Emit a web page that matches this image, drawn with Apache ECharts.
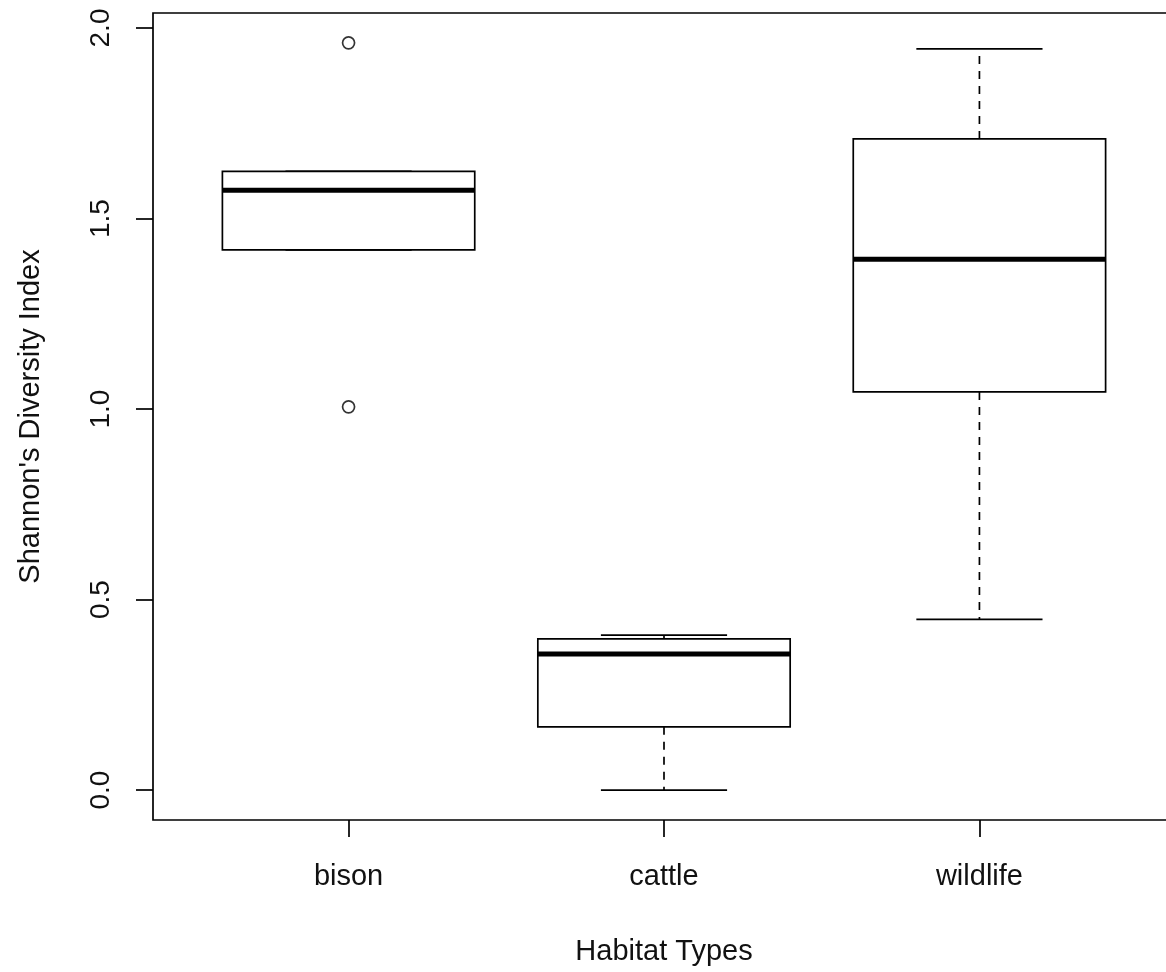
<!DOCTYPE html>
<html>
<head>
<meta charset="utf-8">
<script src="https://cdn.jsdelivr.net/npm/echarts@6/dist/echarts.min.js"></script>
<style>
  html, body { margin: 0; padding: 0; background: #fff; }
  #chart { width: 1166px; height: 972px; }
</style>
</head>
<body>
<div id="chart"></div>
<script>
// Box statistics
const categories = ['bison', 'cattle', 'wildlife'];
const lowerWhisker = [1.418, 0.000, 0.448];
const q1 = [1.418, 0.166, 1.045];
const median = [1.574, 0.357, 1.393];
const q3 = [1.624, 0.397, 1.709];
const upperWhisker = [1.624, 0.407, 1.945];
const outliers = [[1, 1.961], [1, 1.006]]; // [group position, value]
const yTicks = [0, 0.5, 1.0, 1.5, 2.0];
const xTicks = [1, 2, 3];

const FONT = 'Liberation Sans, Arial, sans-serif';

const boxData = categories.map((c, i) => [i + 1, lowerWhisker[i], q1[i], median[i], q3[i], upperWhisker[i]]);

function renderBox(params, api) {
  const x = api.value(0);
  const lo = api.coord([x, api.value(1)]);
  const b1 = api.coord([x, api.value(2)]);
  const md = api.coord([x, api.value(3)]);
  const b3 = api.coord([x, api.value(4)]);
  const hi = api.coord([x, api.value(5)]);
  const boxW = api.size([0.8, 0])[0];
  const stapleW = boxW / 2;
  const cx = lo[0];
  const thin = { stroke: '#000', lineWidth: 1.7 };
  const dashed = { stroke: '#000', lineWidth: 1.7, lineDash: [8, 7] };
  return {
    type: 'group',
    children: [
      { type: 'line', shape: { x1: cx, y1: b3[1], x2: cx, y2: hi[1] }, style: dashed },
      { type: 'line', shape: { x1: cx, y1: b1[1], x2: cx, y2: lo[1] }, style: dashed },
      { type: 'line', shape: { x1: cx - stapleW / 2, y1: hi[1], x2: cx + stapleW / 2, y2: hi[1] }, style: thin },
      { type: 'line', shape: { x1: cx - stapleW / 2, y1: lo[1], x2: cx + stapleW / 2, y2: lo[1] }, style: thin },
      { type: 'rect', shape: { x: cx - boxW / 2, y: b3[1], width: boxW, height: b1[1] - b3[1] },
        style: { fill: '#fff', stroke: '#000', lineWidth: 1.7 } },
      { type: 'line', shape: { x1: cx - boxW / 2, y1: md[1], x2: cx + boxW / 2, y2: md[1] },
        style: { stroke: '#000', lineWidth: 5 } }
    ]
  };
}

const chart = echarts.init(document.getElementById('chart'), null, { renderer: 'canvas' });

chart.setOption({
  backgroundColor: '#fff',
  animation: false,
  grid: {
    left: 153, top: 13, width: 1022, height: 807,
    outerBoundsMode: 'none',
    containLabel: false,
    show: true, borderColor: '#000', borderWidth: 1.7, backgroundColor: 'transparent'
  },
  xAxis: {
    type: 'value',
    min: 0.38, max: 3.62,
    name: 'Habitat Types',
    nameLocation: 'middle',
    nameGap: 117,
    nameTextStyle: { fontFamily: FONT, fontSize: 29, color: '#111' },
    axisLine: { show: false, onZero: false },
    axisTick: { show: true, length: 17, customValues: xTicks, lineStyle: { color: '#000', width: 1.7 } },
    axisLabel: {
      customValues: xTicks,
      formatter: v => categories[Math.round(v) - 1],
      margin: 42, fontFamily: FONT, fontSize: 29, color: '#111'
    },
    splitLine: { show: false }
  },
  yAxis: {
    type: 'value',
    min: -0.0784, max: 2.0394,
    name: "Shannon's Diversity Index",
    nameLocation: 'middle',
    nameGap: 108,
    nameTextStyle: { fontFamily: FONT, fontSize: 29, color: '#111' },
    axisLine: { show: false, onZero: false },
    axisTick: { show: true, length: 17, customValues: yTicks, lineStyle: { color: '#000', width: 1.7 } },
    axisLabel: {
      customValues: yTicks,
      rotate: 90,
      formatter: v => v.toFixed(1),
      margin: 38, fontFamily: FONT, fontSize: 28, color: '#111'
    },
    splitLine: { show: false }
  },
  series: [
    {
      type: 'custom',
      renderItem: renderBox,
      data: boxData,
      encode: { x: 0, y: [1, 2, 3, 4, 5] },
      clip: false
    },
    {
      type: 'scatter',
      data: outliers,
      symbol: 'circle',
      symbolSize: 12,
      itemStyle: { color: '#fff', borderColor: '#000', borderWidth: 1.7 },
      z: 5
    }
  ]
});
</script>
</body>
</html>
